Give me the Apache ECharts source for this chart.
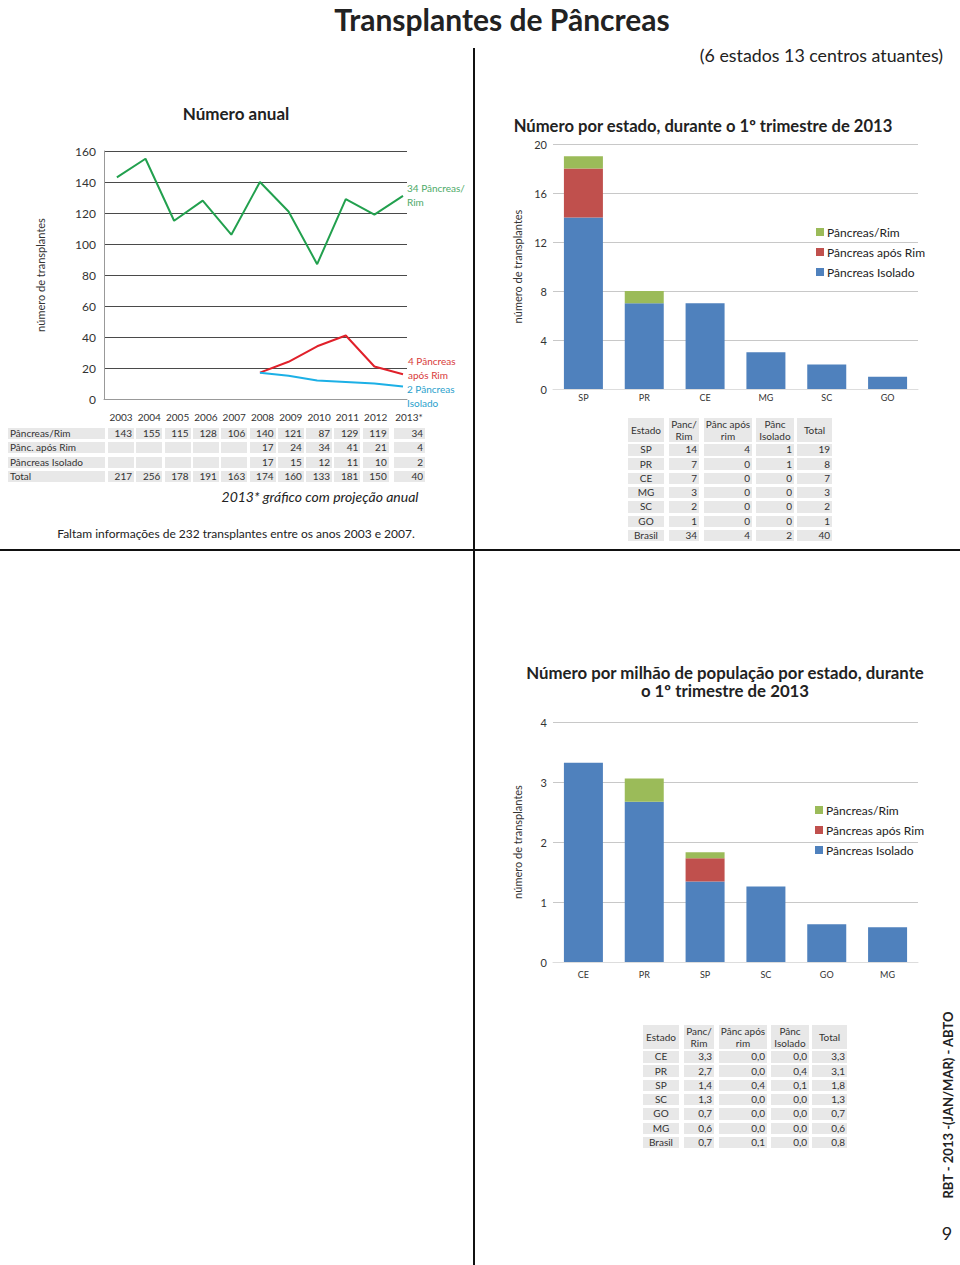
<!DOCTYPE html>
<html><head><meta charset="utf-8">
<script src="https://cdn.jsdelivr.net/npm/echarts@6/dist/echarts.min.js"></script>
<style>
html,body{margin:0;padding:0;background:#fff;}
#page{position:relative;width:960px;height:1265px;overflow:hidden;background:#fff;font-family:Lato,'Open Sans',sans-serif;color:#222;}
#chart{position:absolute;left:0;top:0;width:960px;height:1265px;}
.t{position:absolute;white-space:nowrap;line-height:1.15;}
.cell{position:absolute;background:#e8e8e8;color:#333;font-size:10px;line-height:11px;white-space:nowrap;box-sizing:border-box;}
</style>
</head><body>
<div id="page"><div id="chart"></div></div>
<script>
// ---------- DATA ----------
const years = ['2003','2004','2005','2006','2007','2008','2009','2010','2011','2012','2013*'];
const yearNums = [2003,2004,2005,2006,2007,2008,2009,2010,2011,2012,2013];
// line chart (2013 = annual projection)
const anualPancRim = [143,155,115,128,106,140,121,87,129,119,131];
const anualAposRim = [null,null,null,null,null,17,24,34,41,21,16];
const anualIsolado = [null,null,null,null,null,17,15,12,11,10,8];
// annual table
const tabRowNames = ['Pâncreas/Rim','Pânc. após Rim','Pâncreas Isolado','Total'];
const tabPancRim = ['143','155','115','128','106','140','121','87','129','119','34'];
const tabAposRim = ['','','','','','17','24','34','41','21','4'];
const tabIsolado = ['','','','','','17','15','12','11','10','2'];
const tabTotal = ['217','256','178','191','163','174','160','133','181','150','40'];
// per state, 1st quarter 2013
const estados = ['SP','PR','CE','MG','SC','GO'];
const estPancRim = [14,7,7,3,2,1];
const estAposRim = [4,0,0,0,0,0];
const estIsolado = [1,1,0,0,0,0];
const estTotal = [19,8,7,3,2,1];
const estBrasil = [34,4,2,40];
// per million population
const estadosPmp = ['CE','PR','SP','SC','GO','MG'];
const pmpBarBlue = [3.32,2.67,1.34,1.26,0.63,0.58];
const pmpBarRed = [0,0,0.39,0,0,0];
const pmpBarGreen = [0,0.39,0.10,0,0,0];
const pmpTabPancRim = ['3,3','2,7','1,4','1,3','0,7','0,6'];
const pmpTabAposRim = ['0,0','0,0','0,4','0,0','0,0','0,0'];
const pmpTabIsolado = ['0,0','0,4','0,1','0,0','0,0','0,0'];
const pmpTabTotal = ['3,3','3,1','1,8','1,3','0,7','0,6'];
const pmpBrasil = ['0,7','0,1','0,0','0,8'];
const legendNames = ['Pâncreas/Rim','Pâncreas após Rim','Pâncreas Isolado'];

// ---------- HTML TEXT HELPERS ----------
const page = document.getElementById('page');
function txt(x, y, s, size, opts) {
  opts = opts || {};
  const d = document.createElement('div');
  d.className = 't';
  d.textContent = s;
  d.style.fontSize = size + 'px';
  if (opts.bold) d.style.fontWeight = 'bold';
  if (opts.italic) d.style.fontStyle = 'italic';
  if (opts.color) d.style.color = opts.color;
  if (opts.lh) d.style.lineHeight = opts.lh;
  if (opts.pre) d.style.whiteSpace = 'pre';
  const al = opts.align || 'left';
  d.style.left = x + 'px';
  d.style.top = y + 'px';
  let tx = al === 'center' ? '-50%' : (al === 'right' ? '-100%' : '0');
  d.style.textAlign = al;
  d.style.transform = 'translate(' + tx + ',' + (opts.top ? '0' : '-50%') + ')' + (opts.rot ? ' rotate(' + opts.rot + 'deg)' : '');
  page.appendChild(d);
  return d;
}
function cell(x, y, w, h, s, align, fs) {
  const d = document.createElement('div');
  d.className = 'cell';
  d.style.left = x + 'px'; d.style.top = y + 'px';
  d.style.width = w + 'px'; d.style.height = h + 'px';
  d.style.textAlign = align;
  d.style.padding = align === 'right' ? '0 2px 0 0' : (align === 'left' ? '0 0 0 2px' : '0');
  if (fs) d.style.fontSize = fs + 'px';
  d.style.display = 'flex'; d.style.alignItems = 'center';
  d.style.justifyContent = align === 'right' ? 'flex-end' : (align === 'left' ? 'flex-start' : 'center');
  d.innerHTML = s;
  page.appendChild(d);
}
function rule(x, y, w, h) {
  const d = document.createElement('div');
  d.style.cssText = 'position:absolute;background:#111;left:' + x + 'px;top:' + y + 'px;width:' + w + 'px;height:' + h + 'px;';
  page.appendChild(d);
}

// page frame
rule(0, 549, 960, 2);
rule(473, 48, 2, 1217);
txt(502, 19, 'Transplantes de Pâncreas', 30, {bold: true, align: 'center', lh: '36px'});
txt(943, 55, '(6 estados 13 centros atuantes)', 17.8, {align: 'right'});
txt(236, 114, 'Número anual', 17, {bold: true, align: 'center'});
txt(703, 127, 'Número por estado, durante o 1º trimestre de 2013', 16.6, {bold: true, align: 'center'});
txt(725, 682, 'Número por milhão de população por estado, durante\no 1º trimestre de 2013', 16.8, {bold: true, align: 'center', pre: true, lh: '18px'});
// line end labels
txt(407, 195, '34 Pâncreas/\nRim', 10, {color: '#4daa68', pre: true, lh: '14px'});
txt(408, 368, '4 Pâncreas\napós Rim', 10, {color: '#d83a3a', pre: true, lh: '14px'});
txt(407, 396, '2 Pâncreas\nIsolado', 10, {color: '#2a9fcc', pre: true, lh: '14px'});
txt(320, 497, '2013* gráfico com projeção anual', 14, {italic: true, align: 'center'});
txt(236, 534, 'Faltam informações de 232 transplantes entre os anos 2003 e 2007.', 12, {align: 'center'});
txt(948, 1105, 'RBT - 2013 -(JAN/MAR) - ABTO', 13, {bold: true, align: 'center', rot: -90});
txt(947, 1233, '9', 18, {align: 'center'});

// annual table
(function () {
  const rowsY = [433, 447.5, 462, 476.5];
  const rows = [tabPancRim, tabAposRim, tabIsolado, tabTotal];
  years.forEach((y, i) => {
    const cx = i < 10 ? 121 + i * 28.3 : 409;
    txt(cx, 418, y, 10, {align: 'center', color: '#333'});
  });
  rows.forEach((r, ri) => {
    cell(8, rowsY[ri] - 5.5, 97, 11, tabRowNames[ri], 'left');
    r.forEach((v, i) => {
      const w = i < 10 ? 26 : 31;
      const x = i < 10 ? 108 + i * 28.3 : 394;
      cell(x, rowsY[ri] - 5.5, w, 11, v, 'right');
    });
  });
})();

// state tables
function stateTable(x0, yHead, names, cols, brasil) {
  const colX = [0, 41, 76, 128, 169];
  const colW = [36, 30, 48, 38, 35];
  const heads = ['Estado', 'Panc/<br>Rim', 'Pânc após<br>rim', 'Pânc<br>Isolado', 'Total'];
  heads.forEach((h, c) => {
    cell(x0 + colX[c], yHead, colW[c], 24, '<span style="text-align:center;line-height:12px;display:block;width:100%">' + h + '</span>', 'center');
  });
  const allNames = names.concat(['Brasil']);
  allNames.forEach((n, r) => {
    const y = yHead + 26 + r * 14.3;
    cell(x0 + colX[0], y, colW[0], 11.5, n, 'center');
    for (let c = 0; c < 4; c++) {
      const v = r < names.length ? cols[c][r] : brasil[c];
      cell(x0 + colX[c + 1], y, colW[c + 1], 11.5, String(v), 'right');
    }
  });
}
stateTable(628, 418, estados, [estPancRim, estAposRim, estIsolado, estTotal], estBrasil);
stateTable(643, 1025, estadosPmp, [pmpTabPancRim, pmpTabAposRim, pmpTabIsolado, pmpTabTotal], pmpBrasil);

// ---------- ECHARTS ----------
const chart = echarts.init(document.getElementById('chart'), null, {renderer: 'svg'});
const FONT = 'Lato';
const BLUE = '#4f81bd', RED = '#c0504d', GREEN = '#9bbb59';
const axisLbl = {color: '#333', fontFamily: FONT};
const yName = {color: '#333', fontFamily: FONT, fontSize: 11};

function toPairs(vals) {
  return vals.map((v, i) => [yearNums[i], v]).filter(p => p[1] !== null);
}

const option = {
  animation: false,
  textStyle: {fontFamily: FONT},
  grid: [
    {left: 104, top: 151, width: 303, height: 248},
    {left: 553, top: 144, width: 365, height: 245},
    {left: 553, top: 722, width: 365, height: 240}
  ],
  xAxis: [
    {gridIndex: 0, type: 'value', min: 2002.55, max: 2013.14, axisLabel: {show: false}, axisTick: {show: false},
      splitLine: {show: false}, axisLine: {lineStyle: {color: '#999'}}},
    {gridIndex: 1, type: 'category', data: estados, axisTick: {show: false}, axisLine: {lineStyle: {color: '#ddd'}},
      axisLabel: Object.assign({fontSize: 9, margin: 4}, axisLbl)},
    {gridIndex: 2, type: 'category', data: estadosPmp, axisTick: {show: false}, axisLine: {lineStyle: {color: '#ddd'}},
      axisLabel: Object.assign({fontSize: 9, margin: 8}, axisLbl)}
  ],
  yAxis: [
    {gridIndex: 0, type: 'value', min: 0, max: 160, interval: 20,
      name: 'número de transplantes', nameLocation: 'middle', nameGap: 58, nameTextStyle: yName,
      axisLine: {show: true, lineStyle: {color: '#999'}}, axisTick: {show: false},
      axisLabel: Object.assign({fontSize: 12, margin: 8}, axisLbl),
      splitLine: {lineStyle: {color: '#4a4a4a', width: 1}}},
    {gridIndex: 1, type: 'value', min: 0, max: 20, interval: 4,
      name: 'número de transplantes', nameLocation: 'middle', nameGap: 30, nameTextStyle: yName,
      axisLine: {show: false}, axisTick: {show: false},
      axisLabel: Object.assign({fontSize: 11, margin: 6}, axisLbl),
      splitLine: {lineStyle: {color: '#c8c8c8'}}},
    {gridIndex: 2, type: 'value', min: 0, max: 4, interval: 1,
      name: 'número de transplantes', nameLocation: 'middle', nameGap: 30, nameTextStyle: yName,
      axisLine: {show: false}, axisTick: {show: false},
      axisLabel: Object.assign({fontSize: 11, margin: 6}, axisLbl),
      splitLine: {lineStyle: {color: '#c8c8c8'}}}
  ],
  legend: [
    {data: legendNames, orient: 'vertical', left: 811, top: 220, itemWidth: 8, itemHeight: 8, itemGap: 6,
      icon: 'rect', textStyle: {fontSize: 12, color: '#222', fontFamily: FONT, lineHeight: 14, padding: [0, 0, 0, -2]}},
    {data: legendNames, orient: 'vertical', left: 810, top: 798, itemWidth: 8, itemHeight: 8, itemGap: 6,
      icon: 'rect', textStyle: {fontSize: 12, color: '#222', fontFamily: FONT, lineHeight: 14, padding: [0, 0, 0, -2]}}
  ],
  series: [
    {type: 'line', xAxisIndex: 0, yAxisIndex: 0, data: toPairs(anualPancRim), symbol: 'none',
      lineStyle: {color: '#22a04e', width: 2}, itemStyle: {color: '#22a04e'}},
    {type: 'line', xAxisIndex: 0, yAxisIndex: 0, data: toPairs(anualAposRim), symbol: 'none',
      lineStyle: {color: '#e0202a', width: 2}, itemStyle: {color: '#e0202a'}},
    {type: 'line', xAxisIndex: 0, yAxisIndex: 0, data: toPairs(anualIsolado), symbol: 'none',
      lineStyle: {color: '#1cb0e6', width: 2}, itemStyle: {color: '#1cb0e6'}},

    {name: 'Pâncreas Isolado', type: 'bar', stack: 'a', xAxisIndex: 1, yAxisIndex: 1, data: estPancRim,
      barWidth: 39, itemStyle: {color: BLUE}},
    {name: 'Pâncreas após Rim', type: 'bar', stack: 'a', xAxisIndex: 1, yAxisIndex: 1, data: estAposRim,
      barWidth: 39, itemStyle: {color: RED}},
    {name: 'Pâncreas/Rim', type: 'bar', stack: 'a', xAxisIndex: 1, yAxisIndex: 1, data: estIsolado,
      barWidth: 39, itemStyle: {color: GREEN}},

    {name: 'Pâncreas Isolado', type: 'bar', stack: 'b', xAxisIndex: 2, yAxisIndex: 2, data: pmpBarBlue,
      barWidth: 39, itemStyle: {color: BLUE}},
    {name: 'Pâncreas após Rim', type: 'bar', stack: 'b', xAxisIndex: 2, yAxisIndex: 2, data: pmpBarRed,
      barWidth: 39, itemStyle: {color: RED}},
    {name: 'Pâncreas/Rim', type: 'bar', stack: 'b', xAxisIndex: 2, yAxisIndex: 2, data: pmpBarGreen,
      barWidth: 39, itemStyle: {color: GREEN}}
  ]
};
chart.setOption(option);
</script>
</body></html>
